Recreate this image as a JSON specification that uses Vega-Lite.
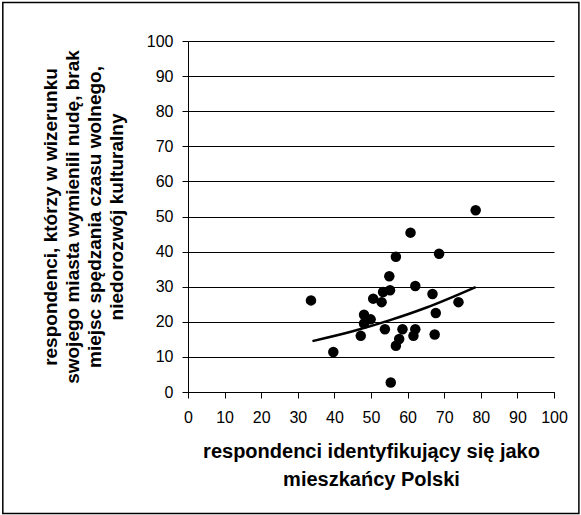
{
  "$schema": "https://vega.github.io/schema/vega-lite/v6.json",
  "width": 366,
  "height": 351,
  "autosize": {"type": "none"},
  "padding": {"left": 188, "top": 41, "right": 27, "bottom": 123},
  "background": "white",
  "config": {
    "view": {"stroke": null},
    "font": "Liberation Sans",
    "axis": {
      "domainColor": "black",
      "tickColor": "black",
      "labelColor": "black",
      "titleColor": "black",
      "labelFont": "Liberation Sans",
      "titleFont": "Liberation Sans",
      "labelFontSize": 16,
      "titleFontWeight": "bold",
      "tickSize": 6,
      "labelPadding": 8,
      "labelFlush": false,
      "labelOverlap": false
    }
  },
  "datasets": {
    "points": [
      {"x": 78.6, "y": 51.8},
      {"x": 60.8, "y": 45.4},
      {"x": 68.6, "y": 39.4},
      {"x": 56.8, "y": 38.5},
      {"x": 55.0, "y": 33.0},
      {"x": 62.1, "y": 30.2},
      {"x": 53.3, "y": 28.5},
      {"x": 55.2, "y": 29.0},
      {"x": 66.8, "y": 27.9},
      {"x": 50.6, "y": 26.6},
      {"x": 52.9, "y": 25.6},
      {"x": 33.6, "y": 26.1},
      {"x": 73.9, "y": 25.6},
      {"x": 48.1, "y": 22.0},
      {"x": 67.7, "y": 22.5},
      {"x": 49.9, "y": 20.7},
      {"x": 48.1, "y": 19.5},
      {"x": 53.8, "y": 17.9},
      {"x": 58.6, "y": 17.9},
      {"x": 62.1, "y": 17.9},
      {"x": 47.2, "y": 16.0},
      {"x": 61.6, "y": 16.0},
      {"x": 67.4, "y": 16.4},
      {"x": 57.7, "y": 15.1},
      {"x": 56.8, "y": 13.2},
      {"x": 39.7, "y": 11.4},
      {"x": 55.4, "y": 2.7}
    ],
    "trend": [
      {"x": 34.0, "y": 14.5},
      {"x": 45.0, "y": 17.3},
      {"x": 55.0, "y": 20.4},
      {"x": 65.0, "y": 24.0},
      {"x": 78.6, "y": 29.9}
    ]
  },
  "layer": [
    {
      "encoding": {
        "x": {
          "field": "x", "type": "quantitative",
          "scale": {"domain": [0, 100], "nice": false},
          "axis": {
            "values": [0, 10, 20, 30, 40, 50, 60, 70, 80, 90, 100],
            "grid": false,
            "labelPadding": 11,
            "title": ["respondenci identyfikujący się jako", "mieszkańcy Polski"],
            "titleFontSize": 20,
            "titlePadding": 16,
            "titleLineHeight": 28
          }
        },
        "y": {
          "field": "y", "type": "quantitative",
          "scale": {"domain": [0, 100], "nice": false},
          "axis": {
            "values": [0, 10, 20, 30, 40, 50, 60, 70, 80, 90, 100],
            "grid": true,
            "gridColor": "black",
            "gridOpacity": 1,
            "gridWidth": 1,
            "labelPadding": 9,
            "title": ["respondenci, którzy w wizerunku", "swojego miasta wymienili nudę, brak", "miejsc spędzania czasu wolnego,", "niedorozwój kulturalny"],
            "titleFontSize": 19,
            "titlePadding": 20,
            "titleLineHeight": 22
          }
        }
      },
      "layer": [
        {
          "data": {"name": "points"},
          "mark": {"type": "circle", "color": "black", "opacity": 1, "size": 110}
        },
        {
          "data": {"name": "trend"},
          "mark": {"type": "line", "color": "black", "strokeWidth": 2.5, "interpolate": "monotone"}
        }
      ]
    },
    {
      "data": {"values": [{}]},
      "mark": {"type": "rect", "fill": null, "stroke": "black", "strokeWidth": 1.5, "clip": false},
      "encoding": {
        "x": {
          "datum": -50.6, "type": "quantitative",
          "scale": {"domain": [0, 100], "nice": false},
          "axis": {
            "values": [0, 10, 20, 30, 40, 50, 60, 70, 80, 90, 100],
            "grid": false,
            "labelPadding": 11,
            "title": ["respondenci identyfikujący się jako", "mieszkańcy Polski"],
            "titleFontSize": 20,
            "titlePadding": 16,
            "titleLineHeight": 28
          }
        },
        "x2": {"datum": 106.8},
        "y": {
          "datum": -34.6, "type": "quantitative",
          "scale": {"domain": [0, 100], "nice": false},
          "axis": {
            "values": [0, 10, 20, 30, 40, 50, 60, 70, 80, 90, 100],
            "grid": true,
            "gridColor": "black",
            "gridOpacity": 1,
            "gridWidth": 1,
            "labelPadding": 9,
            "title": ["respondenci, którzy w wizerunku", "swojego miasta wymienili nudę, brak", "miejsc spędzania czasu wolnego,", "niedorozwój kulturalny"],
            "titleFontSize": 19,
            "titlePadding": 20,
            "titleLineHeight": 22
          }
        },
        "y2": {"datum": 111.0}
      }
    }
  ]
}
